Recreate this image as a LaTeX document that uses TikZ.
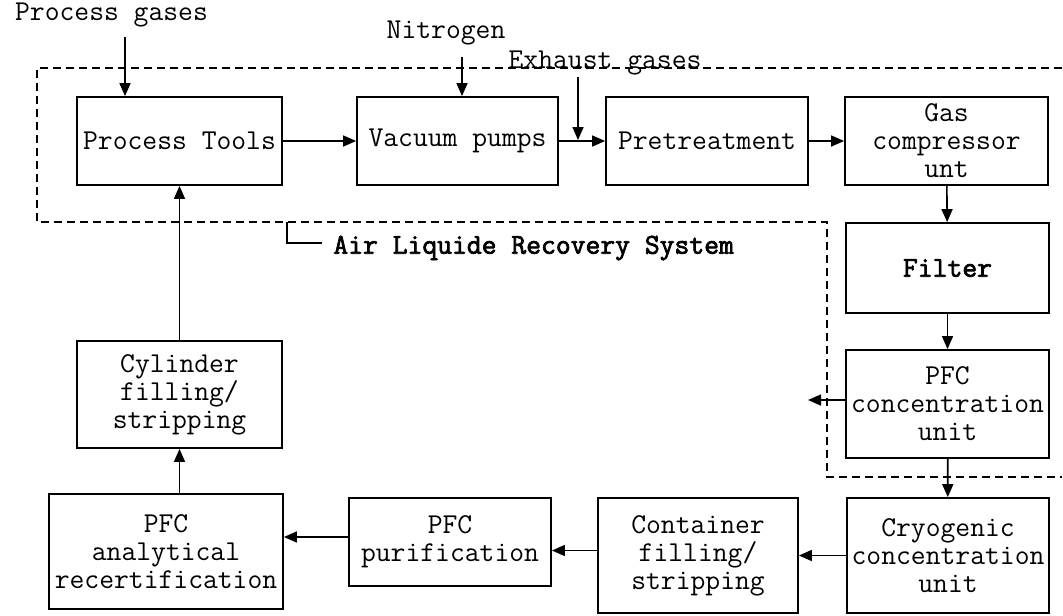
\documentclass[tikz,border=0pt]{standalone}
\usepackage{fontspec}
\newfontfamily\heavytt[FakeBold=2.5]{Latin Modern Mono}
\usetikzlibrary{arrows.meta,positioning}
\tikzstyle{block}=[rectangle, draw, line width=0.9pt, align=center, inner sep=1pt, font=\ttfamily\fontsize{14.4}{14}\selectfont]
\tikzstyle{note}=[inner sep=0pt, font=\ttfamily\fontsize{14.4}{14}\selectfont]
\tikzstyle{flow}=[line width=0.8pt, -{Triangle[length=6.5pt,width=5.5pt]}]
\tikzstyle{boundary}=[line width=0.8pt, dash pattern=on 4pt off 2.5pt]
\newcommand{\block}{\node[block]}

\begin{document}
\begin{tikzpicture}[x=0.5pt, y=-0.5pt]
    \useasboundingbox (0,0) rectangle (1063,615);
    % top row
    \block[minimum width=102.5pt, minimum height=44pt] (pt) at (179.5,141) {Process Tools};
    \block[minimum width=100.5pt, minimum height=44pt] (vp) at (457.5,141) {Vacuum pumps};
    \block[minimum width=101pt, minimum height=44pt] (pre) at (707,141) {Pretreatment};
    \block[minimum width=101.5pt, minimum height=44pt] (gas) at (946.5,141) {Gas\\compressor\\unt};
    % right column
    \block[minimum width=101.5pt, minimum height=45pt, font=\heavytt\fontsize{14.4}{14}\selectfont] (filter) at (947.5,268) {Filter};
    \block[minimum width=101.5pt, minimum height=54pt] (conc) at (947.5,404) {PFC\\concentration\\unit};
    \block[minimum width=101pt, minimum height=57.5pt] (cryo) at (948,555.5) {Cryogenic\\concentration\\unit};
    % bottom row
    \block[minimum width=100pt, minimum height=57.5pt] (cont) at (698,555.5) {Container\\filling/\\stripping};
    \block[minimum width=101pt, minimum height=44pt] (purif) at (450,542) {PFC\\purification};
    \block[minimum width=117pt, minimum height=57.5pt] (anal) at (166,551.5) {PFC\\analytical\\recertification};
    \block[minimum width=102.5pt, minimum height=53.5pt] (cyl) at (179.5,394.5) {Cylinder\\filling/\\stripping};

    % inputs
    \node[note] (gasin) at (111.5,15) {Process gases};
    \node[note] (nitro) at (446,33) {Nitrogen};
    \node[note] (exh) at (605,63) {Exhaust gases};
    \node[note, anchor=west, font=\heavytt\fontsize{14.4}{14}\selectfont] (sys) at (333,248) {Air Liquide Recovery System};
    \coordinate (pgas) at (125,37);
    \coordinate (n2) at (462,57);
    \coordinate (exhtop) at (578,77);
    \coordinate (exhtip) at (578,140);
    \coordinate (side) at (808,400);

    % recovery system boundary
    \draw[boundary] (1062,68) -- (37,68) -- (37,222) -- (827,222) -- (827,477) -- (1062,477);
    \draw[line width=0.7pt] (287,222) -- (287,243) -- (322,243);

    \path[flow]
        (pgas) edge (pgas |- pt.north)
        (n2) edge (n2 |- vp.north)
        (exhtop) edge (exhtip)
        (pt) edge (vp)
        (vp) edge (pre)
        (pre) edge (gas)
        (gas) edge (filter)
        (filter) edge (conc)
        (conc) edge (cryo)
        (conc.west |- side) edge (side)
        (cryo) edge (cont)
        ([yshift=2.5pt]cont.west) edge ([yshift=2.5pt]cont.west -| purif.east)
        ([yshift=2.5pt]purif.west) edge ([yshift=2.5pt]purif.west -| anal.east)
        (anal.north -| cyl.south) edge (cyl.south)
        (cyl.north) edge (cyl.north |- pt.south)
    ;
\end{tikzpicture}
\end{document}
